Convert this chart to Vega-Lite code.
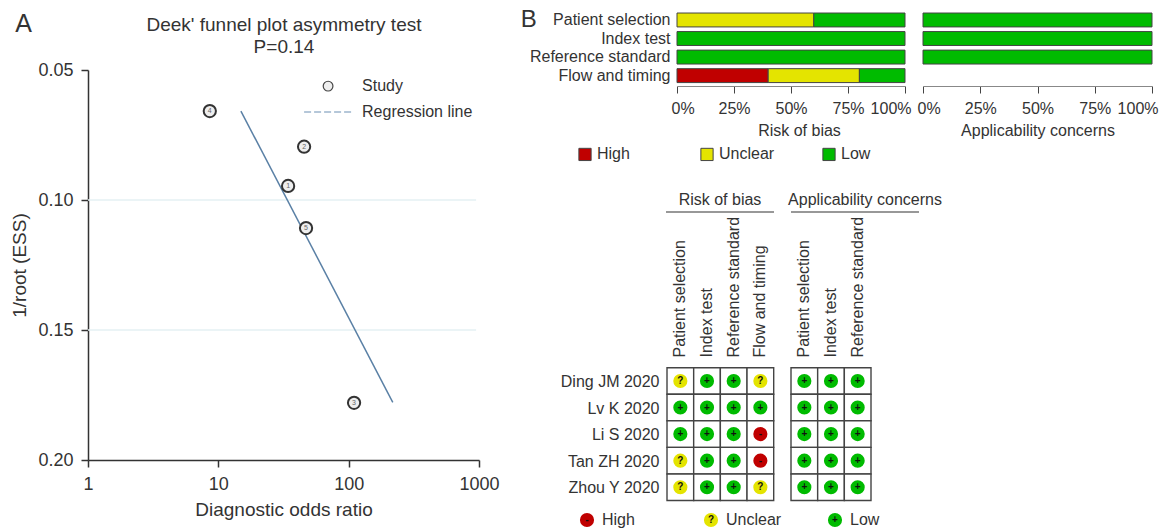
{
"$schema":"https://vega.github.io/schema/vega-lite/v6.json",
"width":1164,"height":531,"padding":0,"autosize":{"type":"none"},"background":"white",
"config":{"font":"Liberation Sans","view":{"stroke":null},"text":{"color":"#333"},
 "axis":{"labelColor":"#333","titleColor":"#333","titleFontWeight":"normal","grid":false,"labelOverlap":false,"labelBound":false,"labelFlush":false}},
"resolve":{"scale":{"x":"independent","y":"independent","color":"independent"},"axis":{"x":"independent","y":"independent"},"legend":{"color":"independent"}},
"layer":[
{"layer":[
 {"data":{"values":[{"g":0.1,"a":1,"b":950},{"g":0.15,"a":1,"b":950}]},
  "mark":{"type":"rule","color":"#e4f0f3","strokeWidth":1.5},
  "encoding":{"x":{"field":"a","type":"quantitative","scale":{"type":"log","domain":[1,1000],"range":[88,479],"nice":false},
     "axis":{"orient":"bottom","offset":-71,"values":[1,10,100,1000],"format":"d","title":"Diagnostic odds ratio","labelFontSize":18,"titleFontSize":19,"tickSize":7,"labelPadding":8,"titlePadding":7,"domainColor":"#333","tickColor":"#333","domainWidth":1.5,"tickWidth":1.5}},
   "x2":{"field":"b"},
   "y":{"field":"g","type":"quantitative","scale":{"domain":[0.05,0.2],"range":[70,460],"nice":false,"zero":false},
     "axis":{"orient":"left","offset":-88,"values":[0.05,0.1,0.15,0.2],"format":".2f","title":"1/root (ESS)","labelFontSize":18,"titleFontSize":19,"tickSize":7,"labelPadding":8,"titlePadding":8,"domainColor":"#333","tickColor":"#333","domainWidth":1.5,"tickWidth":1.5}}}},
 {"data":{"values":[{"dor":14.9,"ess":0.0658},{"dor":218,"ess":0.1778}]},
  "mark":{"type":"line","color":"#5a80a5","strokeWidth":1.5},
  "encoding":{"x":{"field":"dor","type":"quantitative"},"y":{"field":"ess","type":"quantitative"}}},
 {"data":{"values":[{"dor":45.5,"ess":0.0662},{"dor":108,"ess":0.0662}]},
  "mark":{"type":"line","color":"#b5c7d9","strokeWidth":2,"strokeDash":[7,3]},
  "encoding":{"x":{"field":"dor","type":"quantitative"},"y":{"field":"ess","type":"quantitative"}}},
 {"data":{"values":[{"id":"1","dor":34.3,"ess":0.0946},{"id":"2","dor":45.5,"ess":0.0795},{"id":"3","dor":110,"ess":0.178},{"id":"4","dor":8.6,"ess":0.0658},{"id":"5","dor":47.1,"ess":0.1108}]},
  "layer":[
  {"mark":{"type":"point","filled":false,"fill":"#eeeeee","fillOpacity":1,"stroke":"#333","strokeWidth":2,"size":150},
   "encoding":{"x":{"field":"dor","type":"quantitative"},"y":{"field":"ess","type":"quantitative"}}},
  {"mark":{"type":"text","fontSize":7,"color":"#666"},
   "encoding":{"x":{"field":"dor","type":"quantitative"},"y":{"field":"ess","type":"quantitative"},"text":{"field":"id"}}}]},
 {"data":{"values":[{"dor":69.5,"ess":0.0562}]},
  "mark":{"type":"point","filled":false,"fill":"#eeeeee","fillOpacity":1,"stroke":"#444","strokeWidth":1.2,"size":95},
  "encoding":{"x":{"field":"dor","type":"quantitative"},"y":{"field":"ess","type":"quantitative"}}},
 {"data":{"values":[{"t":"Study","dor":126.7,"ess":0.0562},{"t":"Regression line","dor":126.7,"ess":0.0662}]},
  "mark":{"type":"text","align":"left","baseline":"middle","fontSize":16},
  "encoding":{"x":{"field":"dor","type":"quantitative"},"y":{"field":"ess","type":"quantitative"},"text":{"field":"t"}}},
 {"data":{"values":[{"t":"Deek' funnel plot asymmetry test","dor":31.9,"ess":0.0327},{"t":"P=0.14","dor":31.9,"ess":0.0412}]},
  "mark":{"type":"text","align":"center","baseline":"middle","fontSize":19},
  "encoding":{"x":{"field":"dor","type":"quantitative"},"y":{"field":"ess","type":"quantitative"},"text":{"field":"t"}}},
 {"data":{"values":[{"t":"A","dor":0.32,"ess":0.0323}]},
  "mark":{"type":"text","align":"center","baseline":"middle","fontSize":25},
  "encoding":{"x":{"field":"dor","type":"quantitative"},"y":{"field":"ess","type":"quantitative"},"text":{"field":"t"}}}
]},
{"layer":[
 {"data":{"values":[
  {"d":"Patient selection","j":"Unclear","v":0.6,"o":2},{"d":"Patient selection","j":"Low","v":0.4,"o":3},
  {"d":"Index test","j":"Low","v":1,"o":3},{"d":"Reference standard","j":"Low","v":1,"o":3},
  {"d":"Flow and timing","j":"High","v":0.4,"o":1},{"d":"Flow and timing","j":"Unclear","v":0.4,"o":2},{"d":"Flow and timing","j":"Low","v":0.2,"o":3}]},
  "mark":{"type":"bar","stroke":"#444","strokeWidth":1},
  "encoding":{
   "x":{"field":"v","type":"quantitative","stack":"zero","scale":{"domain":[0,1],"range":[677,905],"nice":false},
     "axis":{"orient":"bottom","offset":-445,"values":[0,0.25,0.5,0.75,1],"format":".0%","title":"Risk of bias","titleX":799,"labelFlush":true,"labelFlushOffset":6,"labelFontSize":16,"titleFontSize":16,"tickSize":7,"labelPadding":7,"titlePadding":6,"domainColor":"#888","tickColor":"#444"}},
   "y":{"field":"d","type":"nominal","sort":null,"scale":{"domain":["Patient selection","Index test","Reference standard","Flow and timing"],"range":[10.7,84.9],"paddingInner":0.25,"paddingOuter":0.125},
     "axis":{"orient":"left","offset":-677,"title":null,"labelFontSize":16,"ticks":false,"domain":false,"labelPadding":7}},
   "order":{"field":"o","type":"ordinal"},
   "color":{"field":"j","type":"nominal","scale":{"domain":["High","Unclear","Low"],"range":["#c00000","#e4e400","#00bb00"]},
     "legend":{"orient":"none","legendX":577,"legendY":146,"direction":"horizontal","columns":3,"title":null,"symbolType":"square","symbolSize":150,"labelFontSize":16,"labelColor":"#333","gridAlign":"all","columnPadding":45,"symbolStrokeWidth":1,"symbolOpacity":1}}}},
 {"data":{"values":[{"t":"B","v":-0.65,"d":"Patient selection"}]},
  "mark":{"type":"text","align":"center","baseline":"middle","fontSize":24},
  "encoding":{"x":{"field":"v","type":"quantitative"},"y":{"field":"d","type":"nominal"},"text":{"field":"t"}}}
]},
{"data":{"values":[
  {"d":"Patient selection","j":"Low","v":1},{"d":"Index test","j":"Low","v":1},{"d":"Reference standard","j":"Low","v":1}]},
  "mark":{"type":"bar","stroke":"#444","strokeWidth":1},
  "encoding":{
   "x":{"field":"v","type":"quantitative","scale":{"domain":[0,1],"range":[923,1152],"nice":false},
     "axis":{"orient":"bottom","offset":-445,"values":[0,0.25,0.5,0.75,1],"format":".0%","title":"Applicability concerns","labelFlush":true,"labelFlushOffset":6,"labelFontSize":16,"titleFontSize":16,"tickSize":7,"labelPadding":7,"titlePadding":6,"domainColor":"#888","tickColor":"#444"}},
   "y":{"field":"d","type":"nominal","sort":null,"scale":{"domain":["Patient selection","Index test","Reference standard","Flow and timing"],"range":[10.7,84.9],"paddingInner":0.25,"paddingOuter":0.125},"axis":null},
   "color":{"field":"j","type":"nominal","scale":{"domain":["High","Unclear","Low"],"range":["#c00000","#e4e400","#00bb00"]},"legend":null}}},
{"data":{"values":[{"h":"Risk of bias","a":0,"b":1,"m":0.5}]},
 "layer":[
 {"mark":{"type":"rule","color":"#333","strokeWidth":1.2},
  "encoding":{"x":{"field":"a","type":"quantitative","scale":{"domain":[0,1],"range":[666,774],"nice":false},"axis":null},"x2":{"field":"b"},
   "y":{"field":"h","type":"nominal","scale":{"range":[204,220]},"axis":null}}},
 {"mark":{"type":"text","fontSize":16,"dy":-12,"align":"center","baseline":"middle"},
  "encoding":{"x":{"field":"m","type":"quantitative"},"y":{"field":"h","type":"nominal"},"text":{"field":"h"}}}]},
{"data":{"values":[{"h":"Applicability concerns","a":0,"b":1,"m":0.578}]},
 "layer":[
 {"mark":{"type":"rule","color":"#333","strokeWidth":1.2},
  "encoding":{"x":{"field":"a","type":"quantitative","scale":{"domain":[0,1],"range":[791,919],"nice":false},"axis":null},"x2":{"field":"b"},
   "y":{"field":"h","type":"nominal","scale":{"range":[204,220]},"axis":null}}},
 {"mark":{"type":"text","fontSize":16,"dy":-12,"align":"center","baseline":"middle"},
  "encoding":{"x":{"field":"m","type":"quantitative"},"y":{"field":"h","type":"nominal"},"text":{"field":"h"}}}]},
{"data":{"values":[
 {"s":"Ding JM 2020","d":"Patient selection","j":"Unclear","g":"?"},{"s":"Ding JM 2020","d":"Index test","j":"Low","g":"+"},{"s":"Ding JM 2020","d":"Reference standard","j":"Low","g":"+"},{"s":"Ding JM 2020","d":"Flow and timing","j":"Unclear","g":"?"},
 {"s":"Lv K 2020","d":"Patient selection","j":"Low","g":"+"},{"s":"Lv K 2020","d":"Index test","j":"Low","g":"+"},{"s":"Lv K 2020","d":"Reference standard","j":"Low","g":"+"},{"s":"Lv K 2020","d":"Flow and timing","j":"Low","g":"+"},
 {"s":"Li S 2020","d":"Patient selection","j":"Low","g":"+"},{"s":"Li S 2020","d":"Index test","j":"Low","g":"+"},{"s":"Li S 2020","d":"Reference standard","j":"Low","g":"+"},{"s":"Li S 2020","d":"Flow and timing","j":"High","g":"-"},
 {"s":"Tan ZH 2020","d":"Patient selection","j":"Unclear","g":"?"},{"s":"Tan ZH 2020","d":"Index test","j":"Low","g":"+"},{"s":"Tan ZH 2020","d":"Reference standard","j":"Low","g":"+"},{"s":"Tan ZH 2020","d":"Flow and timing","j":"High","g":"-"},
 {"s":"Zhou Y 2020","d":"Patient selection","j":"Unclear","g":"?"},{"s":"Zhou Y 2020","d":"Index test","j":"Low","g":"+"},{"s":"Zhou Y 2020","d":"Reference standard","j":"Low","g":"+"},{"s":"Zhou Y 2020","d":"Flow and timing","j":"Unclear","g":"?"}]},
 "layer":[
 {"mark":{"type":"rect","fill":"white","stroke":"#444","strokeWidth":1.4},
  "encoding":{
   "x":{"field":"d","type":"nominal","sort":null,"scale":{"domain":["Patient selection","Index test","Reference standard","Flow and timing"],"range":[667,773.7],"paddingInner":0,"paddingOuter":0},
    "axis":{"orient":"top","offset":-367,"title":null,"labelFontSize":16,"labelAngle":270,"labelAlign":"left","labelBaseline":"middle","ticks":false,"domain":false,"labelPadding":10}},
   "y":{"field":"s","type":"nominal","sort":null,"scale":{"domain":["Ding JM 2020","Lv K 2020","Li S 2020","Tan ZH 2020","Zhou Y 2020"],"range":[367.7,500.5],"paddingInner":0,"paddingOuter":0},
    "axis":{"orient":"left","offset":-667,"title":null,"labelFontSize":16,"ticks":false,"domain":false,"labelPadding":8,"labelOffset":1}}}},
 {"mark":{"type":"point","filled":true,"opacity":1,"size":200},
  "encoding":{"x":{"field":"d","type":"nominal"},"y":{"field":"s","type":"nominal"},
   "color":{"field":"j","type":"nominal","scale":{"domain":["High","Unclear","Low"],"range":["#c00000","#e4e400","#00bb00"]},"legend":null}}},
 {"mark":{"type":"text","fontSize":10,"fontWeight":"bold","color":"#111","align":"center","baseline":"middle"},
  "encoding":{"x":{"field":"d","type":"nominal"},"y":{"field":"s","type":"nominal"},"text":{"field":"g"}}}]},
{"data":{"values":[
 {"s":"Ding JM 2020","d":"Patient selection","j":"Low","g":"+"},{"s":"Ding JM 2020","d":"Index test","j":"Low","g":"+"},{"s":"Ding JM 2020","d":"Reference standard","j":"Low","g":"+"},
 {"s":"Lv K 2020","d":"Patient selection","j":"Low","g":"+"},{"s":"Lv K 2020","d":"Index test","j":"Low","g":"+"},{"s":"Lv K 2020","d":"Reference standard","j":"Low","g":"+"},
 {"s":"Li S 2020","d":"Patient selection","j":"Low","g":"+"},{"s":"Li S 2020","d":"Index test","j":"Low","g":"+"},{"s":"Li S 2020","d":"Reference standard","j":"Low","g":"+"},
 {"s":"Tan ZH 2020","d":"Patient selection","j":"Low","g":"+"},{"s":"Tan ZH 2020","d":"Index test","j":"Low","g":"+"},{"s":"Tan ZH 2020","d":"Reference standard","j":"Low","g":"+"},
 {"s":"Zhou Y 2020","d":"Patient selection","j":"Low","g":"+"},{"s":"Zhou Y 2020","d":"Index test","j":"Low","g":"+"},{"s":"Zhou Y 2020","d":"Reference standard","j":"Low","g":"+"}]},
 "layer":[
 {"mark":{"type":"rect","fill":"white","stroke":"#444","strokeWidth":1.4},
  "encoding":{
   "x":{"field":"d","type":"nominal","sort":null,"scale":{"domain":["Patient selection","Index test","Reference standard"],"range":[791,871],"paddingInner":0,"paddingOuter":0},
    "axis":{"orient":"top","offset":-367,"title":null,"labelFontSize":16,"labelAngle":270,"labelAlign":"left","labelBaseline":"middle","ticks":false,"domain":false,"labelPadding":10}},
   "y":{"field":"s","type":"nominal","sort":null,"scale":{"domain":["Ding JM 2020","Lv K 2020","Li S 2020","Tan ZH 2020","Zhou Y 2020"],"range":[367.7,500.5],"paddingInner":0,"paddingOuter":0},"axis":null}}},
 {"mark":{"type":"point","filled":true,"opacity":1,"size":200},
  "encoding":{"x":{"field":"d","type":"nominal"},"y":{"field":"s","type":"nominal"},
   "color":{"field":"j","type":"nominal","scale":{"domain":["High","Unclear","Low"],"range":["#c00000","#e4e400","#00bb00"]},"legend":null}}},
 {"mark":{"type":"text","fontSize":10,"fontWeight":"bold","color":"#111","align":"center","baseline":"middle"},
  "encoding":{"x":{"field":"d","type":"nominal"},"y":{"field":"s","type":"nominal"},"text":{"field":"g"}}}]},
{"data":{"values":[{"j":"High","g":"-","k":"Key"},{"j":"Unclear","g":"?","k":"Key"},{"j":"Low","g":"+","k":"Key"}]},
 "layer":[
 {"mark":{"type":"point","filled":true,"opacity":1,"size":200},
  "encoding":{"x":{"field":"j","type":"nominal","sort":null,"scale":{"type":"point","domain":["High","Unclear","Low"],"range":[587,835],"padding":0},"axis":null},
   "y":{"field":"k","type":"nominal","scale":{"range":[511,529]},"axis":null},
   "color":{"field":"j","type":"nominal","scale":{"domain":["High","Unclear","Low"],"range":["#c00000","#e4e400","#00bb00"]},"legend":null}}},
 {"mark":{"type":"text","fontSize":10,"fontWeight":"bold","color":"#111","align":"center","baseline":"middle"},
  "encoding":{"x":{"field":"j","type":"nominal"},"y":{"field":"k","type":"nominal"},"text":{"field":"g"}}},
 {"mark":{"type":"text","fontSize":16,"align":"left","baseline":"middle","dx":15},
  "encoding":{"x":{"field":"j","type":"nominal"},"y":{"field":"k","type":"nominal"},"text":{"field":"j"}}}]}
]}
